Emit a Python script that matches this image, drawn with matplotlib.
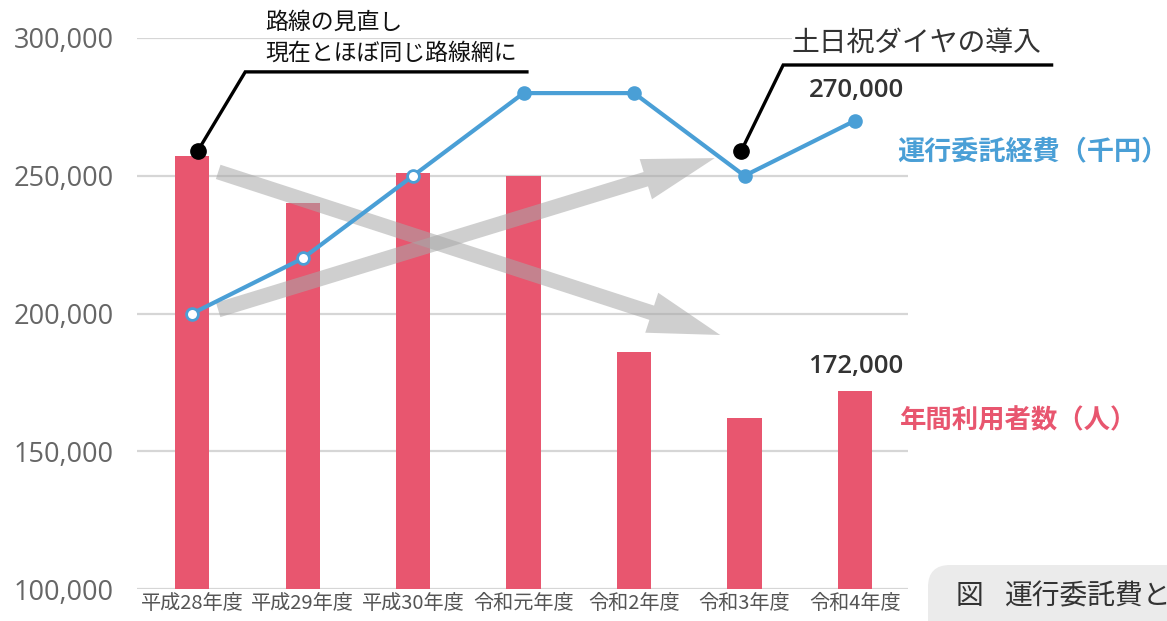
import matplotlib
matplotlib.use("Agg")
import matplotlib.pyplot as plt
from matplotlib.patches import FancyArrow, FancyBboxPatch
from matplotlib.transforms import IdentityTransform

plt.rcParams['font.family'] = ['Noto Sans CJK JP', 'DejaVu Sans']

# ---- data ----
years = ["平成28年度", "平成29年度", "平成30年度", "令和元年度", "令和2年度", "令和3年度", "令和4年度"]
riders = [257000, 240000, 251000, 250000, 186000, 162000, 172000]      # 年間利用者数（人）
cost = [200000, 220000, 250000, 280000, 280000, 250000, 270000]        # 運行委託経費（千円）
open_marker = [True, True, True, False, False, False, False]
yticks = [100000, 150000, 200000, 250000, 300000]

BAR = "#e8566f"
BLUE = "#4a9fd6"
W, H = 1167, 621
NUMFONT = ['Open Sans', 'DejaVu Sans']

fig = plt.figure(figsize=(W / 100, H / 100), dpi=100)
ax = fig.add_axes([137 / W, 1 - 589 / H, (908 - 137) / W, (589 - 38) / H])
ax.set_xlim(-0.5, 6.48)
ax.set_ylim(100000, 300000)

x = list(range(len(years)))
ax.bar(x, [r - 100000 for r in riders], bottom=100000, width=0.31, color=BAR, zorder=2)

ax.set_yticks(yticks)
ax.set_yticklabels([f"{v:,}" for v in yticks], fontsize=19.5, color="#666666", family=NUMFONT)
ax.set_xticks(x)
ax.set_xticklabels(years, fontsize=14.5, color="#555555")
ax.tick_params(axis="y", length=0, pad=17)
ax.tick_params(axis="x", length=0, pad=3)
for s in ax.spines.values():
    s.set_visible(False)
ax.yaxis.grid(True, color="#d6d6d6", lw=1.6, zorder=0)
ax.set_axisbelow(True)

# line
ax.plot(x, cost, color=BLUE, lw=3, zorder=5, solid_capstyle="round")
for xi, ci, op in zip(x, cost, open_marker):
    ax.plot([xi], [ci], marker="o", ms=8.5, mec=BLUE, mew=2,
            mfc="white" if op else BLUE, zorder=6)

# grey trend arrows (data coords -> display)
fig.canvas.draw()
arrows = [((0.235, 251400), (4.78, 192200)), ((0.235, 201300), (4.73, 256400))]
for (t, h) in arrows:
    x0, y0 = ax.transData.transform(t)
    x1, y1 = ax.transData.transform(h)
    arr = FancyArrow(x0, y0, x1 - x0, y1 - y0, width=15, head_width=42, head_length=72,
                     length_includes_head=True, transform=IdentityTransform(),
                     color="#a8a8a8", alpha=0.55, lw=0, zorder=4)
    ax.add_artist(arr)

# annotation leader lines
ann1 = [(0.05, 259000), (0.48, 287700), (3.03, 287700)]
ann2 = [(4.97, 259000), (5.35, 290200), (7.78, 290200)]
for pts in (ann1, ann2):
    ax.plot([p[0] for p in pts], [p[1] for p in pts], color="black", lw=2.4,
            clip_on=False, zorder=7, solid_joinstyle="miter")
    ax.plot([pts[0][0]], [pts[0][1]], "o", color="black", ms=11, clip_on=False, zorder=8)


def ft(px, py, s, **kw):
    return fig.text(px / W, 1 - py / H, s, **kw)


ft(265, 22, "路線の見直し", fontsize=16.5, va="center", ha="left", color="#111111")
ft(265, 53, "現在とほぼ同じ路線網に", fontsize=16.5, va="center", ha="left", color="#111111")
ft(792, 43, "土日祝ダイヤの導入", fontsize=20, va="center", ha="left", color="#333333",
   bbox=dict(facecolor="white", edgecolor="none", pad=0), zorder=3)
ft(856, 90, "270,000", fontsize=18.5, va="center", ha="center", color="#333333",
   fontweight="semibold", family=NUMFONT)
ft(856, 366, "172,000", fontsize=18.5, va="center", ha="center", color="#333333",
   fontweight="semibold", family=NUMFONT)
ft(897, 151, "運行委託経費（千円）", fontsize=19.5, va="center", ha="left", color=BLUE, fontweight="bold")
ft(900, 421, "年間利用者数（人）", fontsize=19, va="center", ha="left", color=BAR, fontweight="bold")

box = FancyBboxPatch((928, H - 660), 300, 95, boxstyle="round,pad=0,rounding_size=22",
                     transform=IdentityTransform(), facecolor="#ebebeb", edgecolor="none")
fig.patches.append(box)
ft(956, 596, "図", fontsize=20, va="center", ha="left", color="#333333")
ft(1005, 596, "運行委託費と", fontsize=20, va="center", ha="left", color="#333333")

fig.savefig("out.png", dpi=100)
